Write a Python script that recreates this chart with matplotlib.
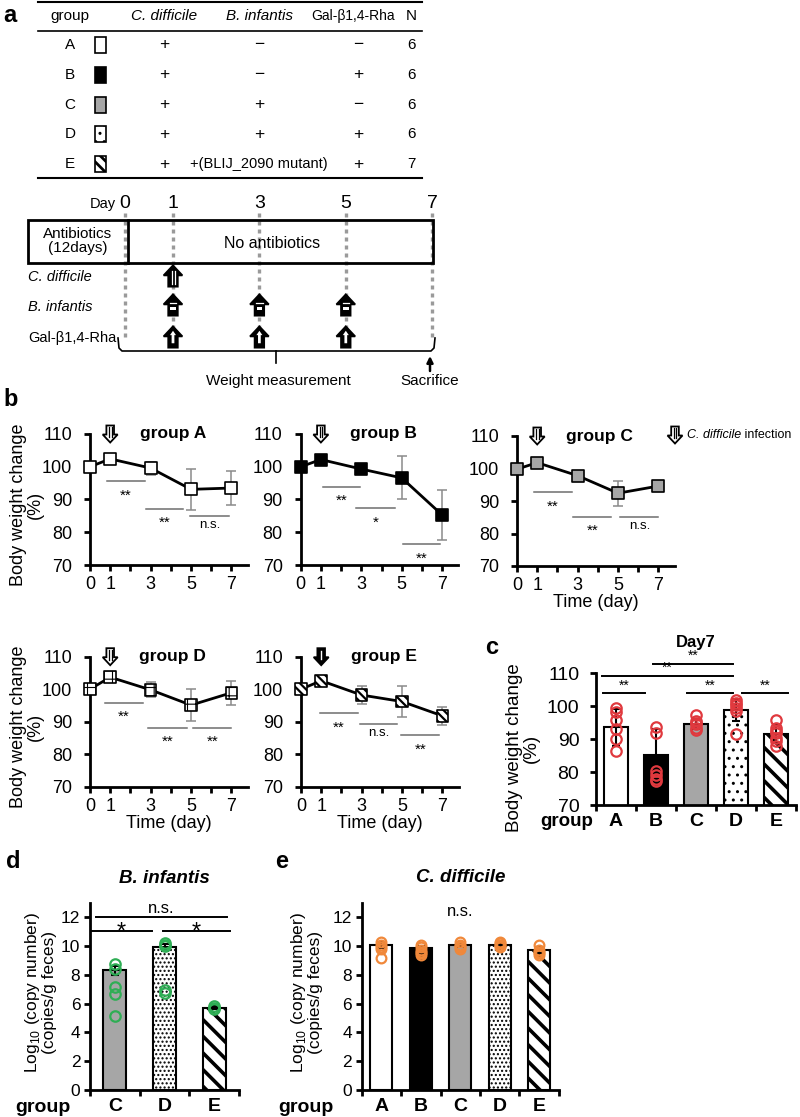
import matplotlib
matplotlib.use("Agg")
import numpy as np
import matplotlib.pyplot as plt
import matplotlib.transforms as mtransforms
from matplotlib import font_manager
from matplotlib.lines import Line2D
from matplotlib.patches import Polygon, Rectangle

W, H = 800, 1117

# ---------------- data ----------------
groups = ["A", "B", "C", "D", "E"]
tab_cdiff = ["+", "+", "+", "+", "+"]
tab_binf = ["\u2212", "\u2212", "+", "+", "+(BLIJ_2090 mutant)"]
tab_gal = ["\u2212", "+", "\u2212", "+", "+"]
tab_n = ["6", "6", "6", "6", "7"]

tl_days = [0, 1, 3, 5, 7]
cdiff_days = [1]
binf_days = [1, 3, 5]
gal_days = [1, 3, 5]

days = [0, 1, 3, 5, 7]
wA = [100.0, 102.4, 99.6, 93.1, 93.5]
eA = [0.0, 0.8, 2.0, 6.2, 5.3]
wB = [100.0, 102.2, 99.3, 96.6, 85.3]
eB = [0.0, 0.8, 1.0, 6.6, 7.6]
wC = [99.8, 101.8, 97.8, 92.4, 94.6]
eC = [0.0, 0.6, 0.8, 3.8, 1.2]
wD = [100.0, 103.7, 99.8, 95.1, 98.9]
eD = [0.0, 0.8, 2.3, 5.0, 3.7]
wE = [100.0, 102.6, 98.2, 96.2, 91.8]
eE = [0.0, 0.6, 2.8, 4.7, 2.8]

# significance bars (x0, x1, y, label) per group
sigA = [(0.85, 2.7, 95.6, "**"), (2.75, 4.6, 87.2, "**"), (4.95, 6.9, 85.0, "n.s.")]
sigB = [(1.09, 2.94, 93.9, "**"), (2.76, 4.67, 87.4, "*"), (5.07, 6.9, 76.4, "**")]
sigC = [(0.85, 2.71, 92.7, "**"), (2.79, 4.67, 85.2, "**"), (5.12, 7.0, 85.2, "n.s.")]
sigD = [(0.74, 2.64, 95.8, "**"), (2.89, 4.79, 88.2, "**"), (5.11, 7.0, 88.2, "**")]
sigE = [(0.93, 2.8, 92.6, "**"), (2.91, 4.77, 89.3, "n.s."), (4.96, 6.84, 85.9, "**")]

# panel c: day 7
day7_mean = [93.6, 85.3, 94.7, 98.9, 91.6]
day7_err = [5.6, 7.8, 1.5, 3.4, 2.8]
day7_pts = [
    [99.6, 98.3, 95.8, 93.0, 89.9, 86.4],
    [93.6, 91.8, 80.4, 79.2, 78.0, 77.4],
    [97.2, 95.5, 95.0, 94.5, 93.5, 92.7],
    [102.0, 101.1, 100.5, 99.6, 98.4, 91.5],
    [95.9, 93.4, 92.6, 91.8, 90.4, 89.4, 87.9],
]
sig_c = [(-0.33, 0.73, 103.9), (-0.36, 2.93, 109.2), (0.92, 2.93, 112.9),
         (1.78, 2.93, 103.9), (3.14, 4.31, 103.9)]

# panel d: B. infantis
binf_groups = ["C", "D", "E"]
binf_mean = [8.3, 9.9, 5.72]
binf_err = [0.3, 0.25, 0.12]
binf_pts = [[8.75, 8.4, 7.15, 6.65, 5.15], [10.2, 10.1, 10.0, 6.95, 6.75], [5.8, 5.7, 5.6]]
sig_d = [(-0.37, 2.25, 12.0, "n.s."), (-0.47, 0.74, 11.06, "*"), (0.97, 2.31, 11.06, "*")]

# panel e: C. difficile
cd_mean = [10.07, 9.84, 10.07, 10.07, 9.72]
cd_err = [0.2, 0.15, 0.15, 0.1, 0.2]
cd_pts = [[10.3, 10.1, 9.9, 9.8, 9.2], [10.1, 9.9, 9.7, 9.6, 9.5, 9.4],
          [10.3, 10.1, 10.0, 9.9, 9.8], [10.3, 10.2, 10.1, 10.0, 9.9],
          [10.1, 9.7, 9.6, 9.5, 9.4]]

# ---------------- style ----------------
names = {f.name for f in font_manager.fontManager.ttflist}
NARROW = "Liberation Sans Narrow" if "Liberation Sans Narrow" in names else "Liberation Sans"
plt.rcParams["font.family"] = ["Liberation Sans", "DejaVu Sans"]
plt.rcParams["mathtext.fontset"] = "custom"
plt.rcParams["mathtext.rm"] = "Liberation Sans"
plt.rcParams["hatch.linewidth"] = 1.0

GRAY = "#a6a6a6"
face = {"A": "white", "B": "black", "C": GRAY, "D": "white", "E": "white"}

fig = plt.figure(figsize=(W / 100, H / 100), dpi=100)

ov = fig.add_axes([0, 0, 1, 1])
ov.set_xlim(0, W)
ov.set_ylim(H, 0)
ov.axis("off")


def px_ax(x0, x1, yb, yt):
    ax = fig.add_axes([x0 / W, 1 - yb / H, (x1 - x0) / W, (yb - yt) / H])
    ax.set_facecolor("none")
    for s in ["top", "right"]:
        ax.spines[s].set_visible(False)
    for s in ["left", "bottom"]:
        ax.spines[s].set_linewidth(2)
    return ax


def set_hlw(artist, lw):
    if hasattr(artist, "set_hatch_linewidth"):
        artist.set_hatch_linewidth(lw)


def add_arrow(x, y, data_trans, down=True, style="hollow", scale=1.0):
    t = mtransforms.Affine2D().scale(scale / 100.0)
    if down:
        t = mtransforms.Affine2D().scale(1, -1) + t
    t = t + fig.dpi_scale_trans + mtransforms.ScaledTranslation(x, y, data_trans)
    verts = [(0, 8.5), (7.5, 0.5), (3.8, 0.5), (3.8, -8.5), (-3.8, -8.5), (-3.8, 0.5), (-7.5, 0.5)]
    fc = "white" if style == "hollow" else "black"
    fig.add_artist(Polygon(verts, closed=True, fc=fc, ec="black", lw=1.3, transform=t))
    if style == "hollow":
        for dx in (-1.3, 1.3):
            fig.add_artist(Line2D([dx, dx], [-7, 3], color="black", lw=0.9, transform=t))
    elif style == "solid":
        fig.add_artist(Line2D([0, 0], [-6, 2], color="white", lw=1.0, transform=t))
    elif style == "cd":
        for dx in (-1.2, 1.2):
            fig.add_artist(Line2D([dx, dx], [-6, 4], color="white", lw=0.9, transform=t))
    elif style == "bi":
        fig.add_artist(Rectangle((-2.3, -4.0), 4.6, 2.4, fc="white", ec="none", transform=t))
        fig.add_artist(Line2D([-2.5, 2.5], [2.0, 2.0], color="white", lw=0.9, transform=t))
    elif style == "gal":
        fig.add_artist(Polygon([(0, 5), (2.4, 1.5), (1.1, 1.5), (1.1, -5), (-1.1, -5), (-1.1, 1.5), (-2.4, 1.5)],
                               closed=True, fc="white", ec="none", transform=t))


# ---------------- panel a: table ----------------
ov.text(3, 16, "a", fontsize=17, fontweight="bold", va="center")
ov.plot([38, 422], [1.5, 1.5], color="black", lw=1.5)
ov.plot([38, 422], [31, 31], color="black", lw=1.2)
ov.plot([38, 422], [178, 178], color="black", lw=1.5)
col_x = {"grp": 70, "cd": 164, "bi": 259, "gal": 353, "n": 411}
hdr_kw = dict(fontsize=11, fontfamily=NARROW, ha="center", va="center")
ov.text(col_x["grp"], 16, "group", **hdr_kw)
ov.text(col_x["cd"], 16, "C. difficile", style="italic", **hdr_kw)
ov.text(col_x["bi"], 16, "B. infantis", style="italic", **hdr_kw)
ov.text(col_x["gal"], 16, "Gal-\u03b21,4-Rha", fontsize=10, fontfamily=NARROW, ha="center", va="center")
ov.text(col_x["n"], 16, "N", **hdr_kw)
for i, g in enumerate(groups):
    y = 45 + 29.8 * i
    ov.text(col_x["grp"], y, g, **hdr_kw)
    sq = Rectangle((95, y - 8), 11, 16, fc=face[g], ec="black", lw=1.2,
                   hatch={"D": "..", "E": "\\\\\\"}.get(g))
    ov.add_patch(sq)
    set_hlw(sq, 2.0 if g == "E" else 1.0)
    ov.text(col_x["cd"], y, tab_cdiff[i], fontsize=12.5, fontfamily=NARROW, ha="center", va="center")
    ov.text(col_x["bi"], y, tab_binf[i], fontsize=12.5 if len(tab_binf[i]) == 1 else 10.5,
            fontfamily=NARROW, ha="center", va="center")
    ov.text(358, y, tab_gal[i], fontsize=12.5, fontfamily=NARROW, ha="center", va="center")
    ov.text(col_x["n"], y, tab_n[i], **hdr_kw)


# ---------------- panel a: timeline ----------------
def tl_x(d):
    return 125 if d == 0 else 173 + 43.2 * (d - 1)


ov.text(103, 204, "Day", fontsize=10.5, fontfamily=NARROW, ha="center", va="center")
for d in tl_days:
    ov.text(tl_x(d), 204, str(d), fontsize=14, fontfamily=NARROW, ha="center", va="center")
    ov.plot([tl_x(d)] * 2, [213, 341], color="#9a9a9a", lw=2.4, ls=(0, (1.2, 1.2)), zorder=1)
ov.add_patch(Rectangle((28, 220), 405, 43, fc="none", ec="black", lw=2, zorder=2))
ov.plot([128, 128], [220, 263], color="black", lw=2, zorder=2)
ov.text(78, 241, "Antibiotics\n(12days)", fontsize=11, fontfamily=NARROW, ha="center",
        va="center", linespacing=1.0)
ov.text(272, 243, "No antibiotics", fontsize=11.5, fontfamily=NARROW, ha="center", va="center")
ov.text(28, 277, "C. difficile", fontsize=10.5, fontfamily=NARROW, style="italic", va="center")
ov.text(28, 307, "B. infantis", fontsize=10.5, fontfamily=NARROW, style="italic", va="center")
ov.text(28, 338, "Gal-\u03b21,4-Rha", fontsize=10.5, fontfamily=NARROW, va="center")
for d in cdiff_days:
    add_arrow(tl_x(d), 276, ov.transData, down=False, style="cd", scale=1.25)
for d in binf_days:
    add_arrow(tl_x(d), 305, ov.transData, down=False, style="bi", scale=1.25)
for d in gal_days:
    add_arrow(tl_x(d), 337, ov.transData, down=False, style="gal", scale=1.25)
ov.plot([118, 119, 122, 431, 434, 435], [338, 348, 351, 351, 348, 338], color="black", lw=1.2)
ov.plot([276, 276], [351, 363], color="black", lw=1.2)
ov.text(278, 381, "Weight measurement", fontsize=11, fontfamily=NARROW, ha="center", va="center")
ov.text(430, 381, "Sacrifice", fontsize=11, fontfamily=NARROW, ha="center", va="center")
ov.annotate("", xy=(430, 356), xytext=(430, 371),
            arrowprops=dict(arrowstyle="-|>", color="black", lw=1.8, mutation_scale=9,
                            shrinkA=0, shrinkB=0))

# ---------------- panel b ----------------
ov.text(3, 400, "b", fontsize=17, fontweight="bold", va="center")
DX = 20.2
b_axes = [
    ("A", wA, eA, sigA, 90, 565, 434),
    ("B", wB, eB, sigB, 300.7, 565, 434),
    ("C", wC, eC, sigC, 517, 566, 436),
    ("D", wD, eD, sigD, 90, 786.7, 656.7),
    ("E", wE, eE, sigE, 301, 786.7, 656.7),
]
for g, w, e, sig, x0, yb, yt in b_axes:
    ax = px_ax(x0, x0 + 7.8 * DX, yb, yt)
    ax.set_xlim(0, 7.8)
    ax.set_ylim(70, 110)
    ax.errorbar(days, w, yerr=e, fmt="none", ecolor="#8a8a8a", elinewidth=1.1,
                capsize=3.5, capthick=1.1, zorder=2, clip_on=False)
    ax.plot(days, w, color="black", lw=2, zorder=3, clip_on=False)
    sc = ax.scatter(days, w, marker="s", s=70, facecolors=face[g], edgecolors="black",
                    linewidths=1.2, zorder=4, clip_on=False,
                    hatch={"D": "++", "E": "\\\\\\\\"}.get(g))
    set_hlw(sc, 0.8 if g == "D" else 1.6)
    for a, b, y, lab in sig:
        ax.plot([a, b], [y, y], color="#6e6e6e", lw=1.1, clip_on=False)
        if "*" in lab:
            ax.text((a + b) / 2, y - 4.4, lab, fontsize=11, ha="center", va="center")
        else:
            ax.text((a + b) / 2, y - 2.9, lab, fontsize=9.5, ha="center", va="center")
    ax.set_yticks([70, 80, 90, 100, 110])
    ax.set_xticks(range(8))
    ax.set_xticklabels(["0", "1", "", "3", "", "5", "", "7"])
    ax.tick_params(direction="out", length=4, width=2, labelsize=13, pad=4)
    ax.tick_params(axis="y", pad=9)
    ax.text(4.1, 110, "group " + g, fontsize=12.5, fontweight="bold", ha="center", va="center")
    add_arrow(1, 110, ax.transData, down=True, style="solid" if g == "E" else "hollow")
    if g in ("C", "D", "E"):
        ax.set_xlabel("Time (day)", fontsize=13, labelpad=0)

for yc in (505, 727):
    ov.text(27, yc, "Body weight change\n(%)", fontsize=13, rotation=90, ha="center",
            va="center", multialignment="center", linespacing=1.0)
add_arrow(675, 435, ov.transData, down=True, style="hollow")
t1 = ov.text(687, 435, "C. difficile", fontsize=9, style="italic", va="center")
ov.annotate(" infection", xy=(1, 0.5), xycoords=t1, fontsize=9, va="center")


def cat_axis(ax, labels, size, pad):
    n = len(labels)
    ax.set_xlim(-0.5, n - 0.5)
    ax.set_xticks(np.arange(-0.5, n, 1))
    ax.set_xticklabels([])
    ax.set_xticks(range(n), minor=True)
    ax.set_xticklabels(labels, minor=True, fontweight="bold", fontsize=size)
    ax.tick_params(axis="x", which="major", direction="out", length=4, width=2)
    ax.tick_params(axis="x", which="minor", length=0, pad=pad)


def draw_bars(ax, labels, mean, err, width, dot_hatch):
    xs = np.arange(len(labels))
    bars = ax.bar(xs, mean, width=width, color=[face[g] for g in labels],
                  edgecolor="black", linewidth=1.5, zorder=2)
    for b, g in zip(bars, labels):
        if g == "D":
            b.set_hatch(dot_hatch)
            set_hlw(b, 1.0)
        elif g == "E":
            b.set_hatch("\\\\")
            set_hlw(b, 2.6)
    ax.errorbar(xs, mean, yerr=err, fmt="none", ecolor="black", elinewidth=1.5,
                capsize=3, capthick=1.5, zorder=3)
    return xs


# ---------------- panel c ----------------
ov.text(492, 648, "c", fontsize=17, fontweight="bold", ha="center", va="center")
axc = px_ax(596, 796, 805, 673.3)
axc.set_ylim(70, 110)
xs = draw_bars(axc, groups, day7_mean, day7_err, 0.58, "..")
for x, pts in zip(xs, day7_pts):
    axc.plot([x] * len(pts), pts, "o", mfc="none", mec="#e0393e", ms=7.5, mew=1.6,
             zorder=4, clip_on=False)
for a, b, y in sig_c:
    axc.plot([a, b], [y, y], color="black", lw=1.4, clip_on=False)
    axc.text((a + b) / 2, y + 0.2, "**", fontsize=10, ha="center", va="bottom")
axc.set_yticks([70, 80, 90, 100, 110])
axc.tick_params(axis="y", direction="out", length=4, width=2, labelsize=14, pad=8)
cat_axis(axc, groups, 14, 6)
axc.set_title("Day7", fontsize=12, fontweight="bold", pad=19)
ov.text(523, 748, "Body weight change\n(%)", fontsize=13.5, rotation=90, ha="center",
        va="center", multialignment="center", linespacing=1.0)
ov.text(567, 822, "group", fontsize=13.5, fontweight="bold", ha="center", va="center")

# ---------------- panel d ----------------
ov.text(13, 862, "d", fontsize=17, fontweight="bold", ha="center", va="center")
axd = px_ax(90, 239, 1090, 902.8)
axd.set_ylim(0, 13)
xs = draw_bars(axd, binf_groups, binf_mean, binf_err, 0.46, "....")
for x, pts in zip(xs, binf_pts):
    axd.plot([x] * len(pts), pts, "o", mfc="none", mec="#2fae55", ms=7.5, mew=1.6, zorder=4)
for a, b, y, lab in sig_d:
    axd.plot([a, b], [y, y], color="black", lw=1.4, clip_on=False)
    if lab == "*":
        axd.text((a + b) / 2, y - 0.13, lab, fontsize=17, ha="center", va="center")
    else:
        axd.text((a + b) / 2, y + 0.1, lab, fontsize=12, ha="center", va="bottom")
axd.set_yticks(range(0, 13, 2))
axd.tick_params(axis="y", direction="out", length=4, width=2, labelsize=12.5, pad=3)
cat_axis(axd, binf_groups, 14, 6)
axd.set_title("B. infantis", fontsize=13.5, fontweight="bold", style="italic", pad=14)
ov.text(40, 993, "Log$_{10}$ (copy number)\n(copies/g feces)", fontsize=12.5, rotation=90,
        ha="center", va="center", multialignment="center", linespacing=1.0)
ov.text(43, 1108, "group", fontsize=14, fontweight="bold", ha="center", va="center")

# ---------------- panel e ----------------
ov.text(282, 862, "e", fontsize=17, fontweight="bold", ha="center", va="center")
axe = px_ax(361.7, 558.7, 1090, 902.8)
axe.set_ylim(0, 13)
xs = draw_bars(axe, groups, cd_mean, cd_err, 0.56, "....")
for x, pts in zip(xs, cd_pts):
    axe.plot([x] * len(pts), pts, "o", mfc="none", mec="#f0883a", ms=7, mew=1.6, zorder=4)
axe.text(2, 12.4, "n.s.", fontsize=12, ha="center", va="center")
axe.set_yticks(range(0, 13, 2))
axe.tick_params(axis="y", direction="out", length=4, width=2, labelsize=12.5, pad=3)
cat_axis(axe, groups, 14, 6)
axe.set_title("C. difficile", fontsize=13.5, fontweight="bold", style="italic", pad=15)
ov.text(306, 993, "Log$_{10}$ (copy number)\n(copies/g feces)", fontsize=12.5, rotation=90,
        ha="center", va="center", multialignment="center", linespacing=1.0)
ov.text(306, 1108, "group", fontsize=14, fontweight="bold", ha="center", va="center")

fig.savefig("out.png", dpi=100)
